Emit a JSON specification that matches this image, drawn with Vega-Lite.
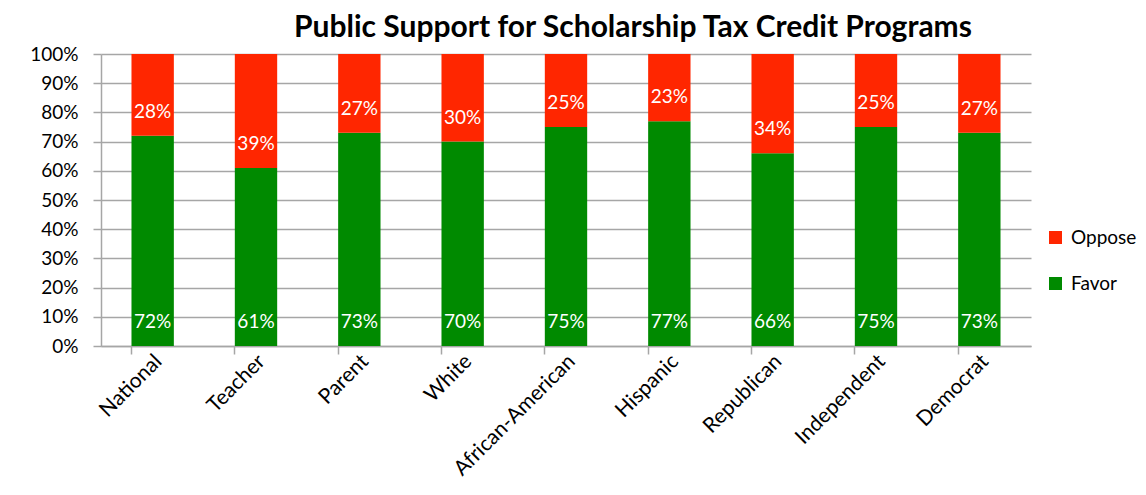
{
  "$schema": "https://vega.github.io/schema/vega-lite/v6.json",
  "width": 930,
  "height": 292,
  "autosize": {"type": "none"},
  "padding": {"left": 101, "top": 54, "right": 115, "bottom": 149},
  "background": "white",
  "config": {"view": {"stroke": null}},
  "title": {"text": "Public Support for Scholarship Tax Credit Programs", "font": "Lato", "fontSize": 30, "fontWeight": "bold", "color": "black", "anchor": "middle", "dx": 67, "offset": 2},
  "data": {"values": [
    {"group": "National", "series": "Favor", "value": 0.72},
    {"group": "National", "series": "Oppose", "value": 0.28},
    {"group": "Teacher", "series": "Favor", "value": 0.61},
    {"group": "Teacher", "series": "Oppose", "value": 0.39},
    {"group": "Parent", "series": "Favor", "value": 0.73},
    {"group": "Parent", "series": "Oppose", "value": 0.27},
    {"group": "White", "series": "Favor", "value": 0.70},
    {"group": "White", "series": "Oppose", "value": 0.30},
    {"group": "African-American", "series": "Favor", "value": 0.75},
    {"group": "African-American", "series": "Oppose", "value": 0.25},
    {"group": "Hispanic", "series": "Favor", "value": 0.77},
    {"group": "Hispanic", "series": "Oppose", "value": 0.23},
    {"group": "Republican", "series": "Favor", "value": 0.66},
    {"group": "Republican", "series": "Oppose", "value": 0.34},
    {"group": "Independent", "series": "Favor", "value": 0.75},
    {"group": "Independent", "series": "Oppose", "value": 0.25},
    {"group": "Democrat", "series": "Favor", "value": 0.73},
    {"group": "Democrat", "series": "Oppose", "value": 0.27}
  ]},
  "transform": [
    {"stack": "value", "groupby": ["group"], "sort": [{"field": "series", "order": "ascending"}], "as": ["v0", "v1"]}
  ],
  "encoding": {
    "x": {
      "field": "group", "type": "nominal", "sort": null,
      "scale": {"paddingInner": 0.59, "paddingOuter": 0.295},
      "axis": {"title": null, "labelAngle": -45, "labelAlign": "right", "labelBaseline": "middle", "labelFont": "Lato", "labelFontSize": 21, "labelColor": "black", "labelOverlap": false, "labelOffset": 6, "tickSize": 8, "tickColor": "#a6a6a6", "tickWidth": 1.5, "domainColor": "#a6a6a6", "domainWidth": 1.5, "bandPosition": 0, "labelPadding": 4, "grid": false}
    },
    "y": {"field": "v0", "type": "quantitative", "scale": {"domain": [0, 1], "nice": false},
      "axis": {"title": null, "values": [0, 0.1, 0.2, 0.3, 0.4, 0.5, 0.6, 0.7, 0.8, 0.9, 1], "tickCount": 20, "format": ".0%", "labelOverlap": false, "grid": true, "gridColor": "#a6a6a6", "gridWidth": 1.5, "domainColor": "#a6a6a6", "domainWidth": 1.5, "tickColor": "#a6a6a6", "tickWidth": 1.5, "tickSize": 8, "labelPadding": 15, "labelFont": "Lato", "labelFontSize": 19, "labelColor": "black"}}
  },
  "layer": [
    {
      "mark": {"type": "bar"},
      "encoding": {
        "y2": {"field": "v1"},
        "color": {"field": "series", "type": "nominal",
          "scale": {"domain": ["Oppose", "Favor"], "range": ["#FF2600", "#008A00"]},
          "legend": {"title": null, "orient": "none", "legendX": 945, "legendY": 174, "symbolType": "square", "symbolSize": 169, "symbolStrokeWidth": 0, "labelFont": "Lato", "labelFontSize": 19, "labelColor": "black", "rowPadding": 26, "labelOffset": 6}}
      }
    },
    {
      "mark": {"type": "text", "baseline": "middle", "align": "center", "dy": -24, "color": "white", "font": "Lato", "fontSize": 19},
      "encoding": {
        "text": {"field": "value", "type": "quantitative", "format": ".0%"}
      }
    }
  ]
}
